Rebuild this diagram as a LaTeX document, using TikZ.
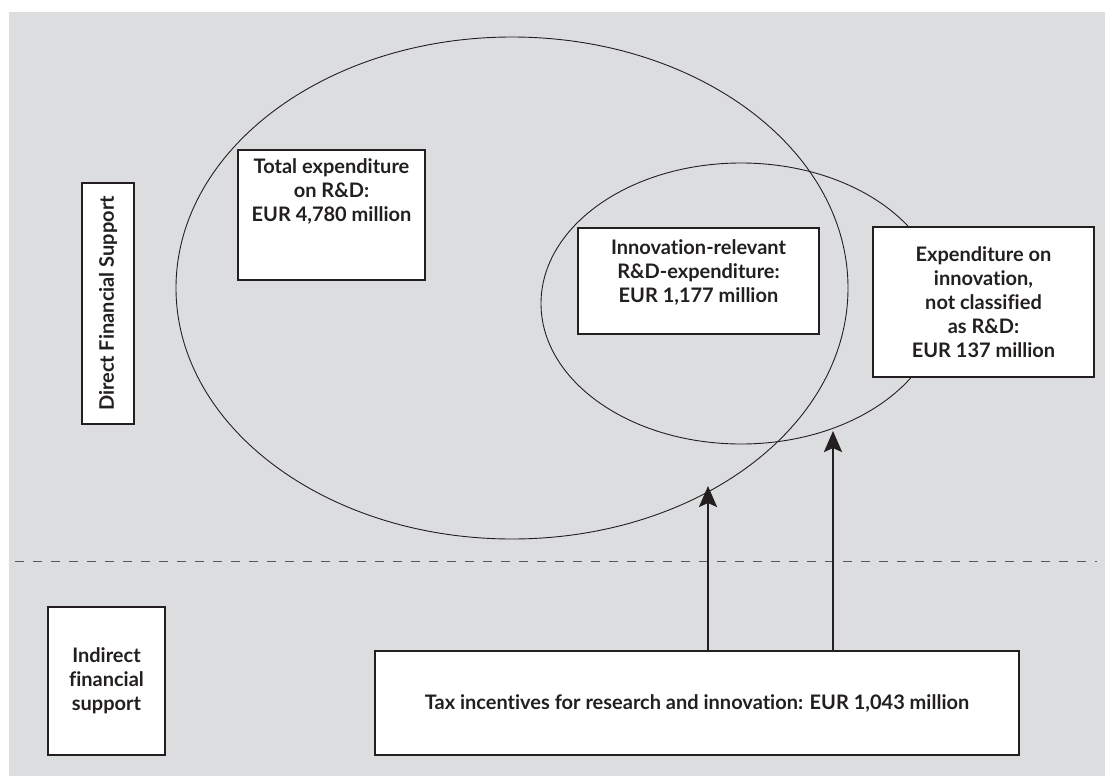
\documentclass[tikz,border=0pt]{standalone}
\usepackage{fontspec}
\setmainfont{Lato}[Ligatures={NoCommon}]
\usepackage{xcolor}
\usetikzlibrary{shapes.geometric,arrows.meta}

\definecolor{panel}{HTML}{DCDDDF}
\definecolor{ink}{HTML}{231F20}

\begin{document}
\begin{tikzpicture}[x=1pt,y=-1pt,
    box/.style={shape=rectangle, draw=ink, line width=1.2pt, fill=white, inner sep=0pt,
      align=center, text=ink, font=\fontsize{20}{24}\selectfont\bfseries},
    oval/.style={shape=ellipse, draw=ink, line width=0.9pt, inner sep=0pt},
    push/.style={line width=2.6pt, draw=ink, -{Stealth[length=21pt,width=18pt,inset=4pt]}}]
    \useasboundingbox (0,0) rectangle (1105,776);
    \fill[panel] (9,12) rectangle (1105,776);

    % the two expenditure sets
    \node[oval, minimum width=672pt, minimum height=502pt] (allrd) at (512,288) {};
    \node[oval, minimum width=400pt, minimum height=281pt] (innorel) at (741,303.5) {};

    \draw[ink!75, line width=1pt, dash pattern=on 9pt off 9pt] (15,561) -- (1097,561);

    \node[box, minimum width=241pt, minimum height=52pt, rotate=90] (direct) at (108,303.5) {Direct Financial Support};
    \node[box, minimum width=187pt, minimum height=130pt] (total) at (331.5,215) {Total expenditure\\on R\&D:\\EUR 4,780 million\\[26pt]\mbox{}};
    \node[box, minimum width=241pt, minimum height=106pt] (relevant) at (698.5,281) {Innovation-relevant\\R\&D-expenditure:\\EUR 1,177 million\\[-4pt]\mbox{}};
    \node[box, minimum width=221pt, minimum height=150pt] (notrd) at (983.5,302) {Expenditure on\\innovation,\\not classified\\as R\&D:\\EUR 137 million};
    \node[box, minimum width=117pt, minimum height=148pt] (indirect) at (106.5,681) {Indirect\\financial\\support};
    \node[box, minimum width=644pt, minimum height=104pt] (tax) at (697,703) {Tax incentives for research and innovation: EUR 1,043 million};

    \coordinate (tipall) at (708,486);
    \coordinate (tiprel) at (833,431);
    \draw[push] (tipall |- tax.north) -- (tipall);
    \draw[push] (tiprel |- tax.north) -- (tiprel);
\end{tikzpicture}
\end{document}
